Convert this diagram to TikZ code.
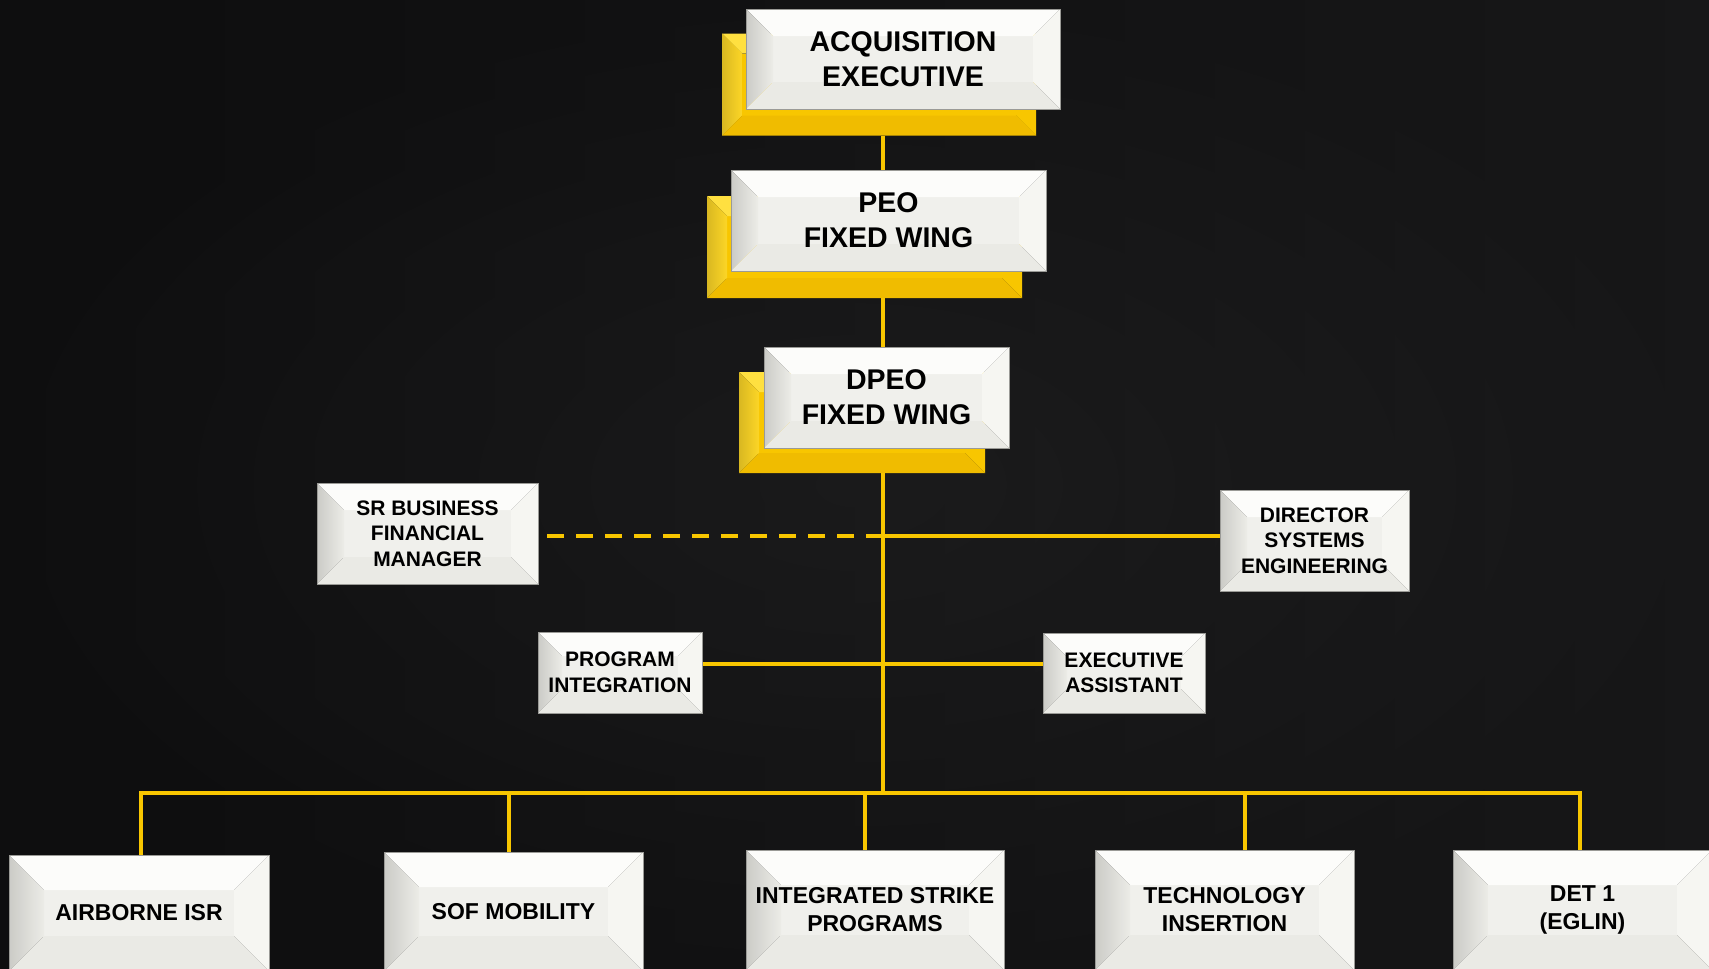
\documentclass[tikz,border=0pt]{standalone}
\usepackage{fontspec}
\setmainfont{Liberation Sans}
\usetikzlibrary{calc}
\definecolor{gold}{HTML}{F8C600}
\definecolor{goldlt}{HTML}{FFE040}
\definecolor{golddk}{HTML}{F0BC00}
\definecolor{faceC}{HTML}{F0F0EC}
\definecolor{faceT}{HTML}{FCFCFA}
\definecolor{faceL}{HTML}{ECECE7}
\definecolor{faceR}{HTML}{F6F6F2}
\definecolor{faceB}{HTML}{EAEAE5}
\definecolor{edge}{HTML}{9A9A96}
\definecolor{bgA}{HTML}{0E0E0F}
\definecolor{bgB}{HTML}{212122}
\newcommand\bvfaces[6]{%
  \path (path picture bounding box.north west) coordinate (bvA)
        (path picture bounding box.north east) coordinate (bvB)
        (path picture bounding box.south east) coordinate (bvC)
        (path picture bounding box.south west) coordinate (bvD);
  \path ([xshift=#1,yshift=-#1]bvA) coordinate (bva)
        ([xshift=-#1,yshift=-#1]bvB) coordinate (bvb)
        ([xshift=-#1,yshift=#1]bvC) coordinate (bvc)
        ([xshift=#1,yshift=#1]bvD) coordinate (bvd);
  \shade[left color=#6!96!black, right color=#6] (bva) rectangle ([xshift=-#1]bvc -| bvd);
  \fill[#6] ([xshift=-#1]bvc -| bvd) rectangle (bvb);
  \fill[#6] ([xshift=-#1]bvc -| bvd) |- (bvc) |- (bvb) -- cycle;
  \fill[#2] (bvA) -- (bvB) -- (bvb) -- (bva) -- cycle;
  \shade[left color=#3!86!black, right color=#3] (bvA) -- (bva) -- (bvd) -- (bvD) -- cycle;
  \fill[#4] (bvB) -- (bvC) -- (bvc) -- (bvb) -- cycle;
  \fill[#5] (bvD) -- (bvd) -- (bvc) -- (bvC) -- cycle;
}
\tikzset{
  wbox/.style={rectangle, inner sep=0pt, align=center, text=black,
    draw=edge, line width=1pt,
    path picture={\bvfaces{#1}{faceT}{faceL}{faceR}{faceB}{faceC}}},
  ybox/.style={rectangle, inner sep=0pt,
    path picture={\bvfaces{#1}{goldlt}{goldlt!60!gold}{gold}{golddk}{gold}}},
  bigtxt/.style={font=\bfseries\fontsize{28.5}{35}\selectfont},
  midtxt/.style={font=\bfseries\fontsize{21}{25.5}\selectfont},
  lowtxt/.style={font=\bfseries\fontsize{23}{28}\selectfont},
  link/.style={draw=gold, line width=4.5pt},
  dlink/.style={draw=gold, line width=4.5pt, dash pattern=on 17pt off 12pt},
}
\begin{document}
\begin{tikzpicture}[x=1pt,y=-1pt]
\useasboundingbox (0,0) rectangle (1709,969);
\shade[left color=bgA, right color=bgB] (0,0) rectangle (1709,969);
\shade[inner color=bgB!80!bgA, outer color=bgA, opacity=0.5] (0,0) rectangle (1709,969);

% connector coordinates
\coordinate (tx) at (883,0);
\coordinate (c1) at (883,536);
\coordinate (c2) at (883,664);
\coordinate (hub) at (883,793);
\coordinate (d1) at (141,793);
\coordinate (d2) at (509,793);
\coordinate (d3) at (865,793);
\coordinate (d4) at (1245,793);
\coordinate (d5) at (1580,793);

% shadows
\node[ybox=20pt, minimum width=314pt, minimum height=102pt] (acqsh) at (879,84.5) {};
\node[ybox=20pt, minimum width=315pt, minimum height=102pt] (peosh) at (864.5,247) {};
\node[ybox=20pt, minimum width=246pt, minimum height=101pt] (dpeosh) at (862,422.5) {};

% main boxes
\node[wbox=27pt, bigtxt, minimum width=314pt, minimum height=100pt] (acq) at (903,59) {ACQUISITION\\EXECUTIVE};
\node[wbox=27pt, bigtxt, minimum width=315pt, minimum height=101pt] (peo) at (888.5,220.5) {PEO\\FIXED WING};
\node[wbox=27pt, bigtxt, minimum width=245pt, minimum height=101pt] (dpeo) at (886.5,397.5) {DPEO\\FIXED WING};

\node[wbox=27pt, midtxt, minimum width=221pt, minimum height=101pt] (sr) at (427.5,533.5) {SR BUSINESS\\FINANCIAL\\MANAGER};
\node[wbox=27pt, midtxt, minimum width=189pt, minimum height=101pt] (dir) at (1314.5,540.5) {DIRECTOR\\SYSTEMS\\ENGINEERING};
\node[wbox=24pt, midtxt, minimum width=164pt, minimum height=81pt] (prog) at (620,672.5) {PROGRAM\\INTEGRATION};
\node[wbox=24pt, midtxt, minimum width=162pt, minimum height=80pt] (exec) at (1124,673) {EXECUTIVE\\ASSISTANT};

% bottom boxes
\node[wbox=35pt, lowtxt, minimum width=260pt, minimum height=116pt] (air) at (139,913) {AIRBORNE ISR};
\node[wbox=35pt, lowtxt, minimum width=259pt, minimum height=119pt] (sof) at (513.5,911.5) {SOF MOBILITY};
\node[wbox=35pt, lowtxt, minimum width=258pt, minimum height=120pt] (isp) at (875,910) {INTEGRATED STRIKE\\PROGRAMS};
\node[wbox=35pt, lowtxt, minimum width=259pt, minimum height=120pt] (tech) at (1224.5,910) {TECHNOLOGY\\INSERTION};
\node[wbox=35pt, lowtxt, minimum width=259pt, minimum height=120pt] (det) at (1582.5,910) {DET 1\\(EGLIN)};

% connectors
\draw[link] (acqsh.south -| tx) -- (tx |- peo.north);
\draw[link] (peosh.south -| tx) -- (tx |- dpeo.north);
\draw[link] (dpeosh.south -| tx) -- (hub);
\draw[link] (c1) -- (c1 -| dir.west);
\draw[dlink] (c1) -- (c1 -| sr.east);
\draw[link] (c2 -| prog.east) -- (c2 -| exec.west);
\draw[link] (d1) -- (d5);
\draw[link] ([yshift=2.25pt]d1) -- (d1 |- air.north);
\draw[link] (d2) -- (d2 |- sof.north);
\draw[link] (d3) -- (d3 |- isp.north);
\draw[link] (d4) -- (d4 |- tech.north);
\draw[link] ([yshift=2.25pt]d5) -- (d5 |- det.north);
\end{tikzpicture}
\end{document}
